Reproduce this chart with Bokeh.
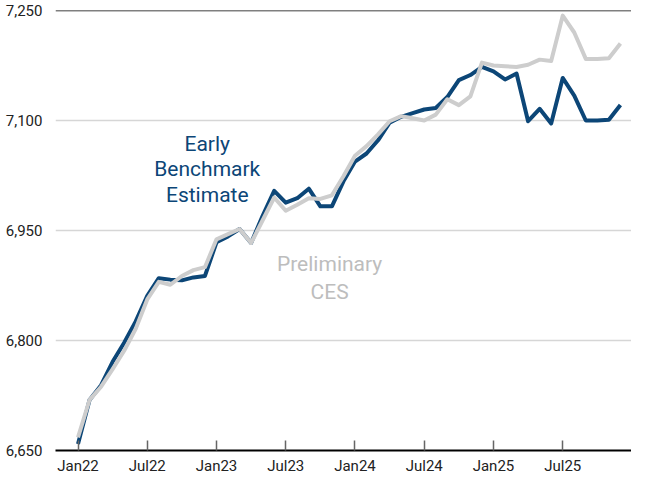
from bokeh.plotting import figure
from bokeh.models import FixedTicker, Span, Label, ColumnDataSource, Range1d
from bokeh.embed import file_html
from bokeh.resources import INLINE

# ---- data (thousands), monthly Jan22 .. Dec25 ----
early_benchmark = [6659, 6719, 6739, 6771, 6797, 6826, 6861, 6885, 6883, 6882, 6886, 6888,
                   6934, 6942, 6952, 6933, 6970, 7004, 6988, 6994, 7007, 6983, 6983, 7017,
                   7044, 7055, 7073, 7097, 7105, 7110, 7115, 7117, 7132, 7155, 7162, 7173,
                   7167, 7156, 7164, 7099, 7116, 7096, 7158, 7134, 7100, 7100, 7101, 7121]
preliminary_ces = [6668, 6719, 6737, 6761, 6786, 6816, 6856, 6880, 6876, 6888, 6896, 6900,
                   6938, 6945, 6952, 6933, 6964, 6995, 6977, 6985, 6994, 6993, 6998, 7024,
                   7052, 7065, 7081, 7099, 7106, 7103, 7100, 7108, 7129, 7121, 7133, 7179,
                   7175, 7174, 7173, 7176, 7183, 7181, 7243, 7220, 7184, 7184, 7185, 7205]
x_tick_positions = [0, 6, 12, 18, 24, 30, 36, 42]
x_tick_labels = ["Jan22", "Jul22", "Jan23", "Jul23", "Jan24", "Jul24", "Jan25", "Jul25"]
y_ticks = [6650, 6800, 6950, 7100, 7250]

month_index = list(range(len(early_benchmark)))
src = ColumnDataSource(dict(x=month_index, eb=early_benchmark, ces=preliminary_ces))

BLUE = "#0c4677"
GRAY_LINE = "#cdcdcd"
GRAY_TEXT = "#bdbdbd"
FONT = "Roboto"

p = figure(width=631, height=477, output_backend="svg", toolbar_location=None,
           x_range=Range1d(-1.95, 47.96), y_range=Range1d(6650, 7250),
           min_border_left=55, min_border_right=0, min_border_top=10, min_border_bottom=22)
p.outline_line_color = None
p.background_fill_color = "white"
p.border_fill_color = "white"

p.line("x", "eb", source=src, line_color=BLUE, line_width=4, line_join="round")
p.line("x", "ces", source=src, line_color=GRAY_LINE, line_width=4, line_join="round")

# axes
xa = p.xaxis[0]
xa.ticker = FixedTicker(ticks=x_tick_positions)
xa.major_label_overrides = {t: l for t, l in zip(x_tick_positions, x_tick_labels)}
xa.axis_line_color = "black"
xa.axis_line_width = 2
xa.major_tick_in = 10
xa.major_tick_out = 0
xa.major_tick_line_color = "#666666"
xa.major_tick_line_width = 1.5
xa.minor_tick_line_color = None
xa.major_label_standoff = 6
xa.major_label_text_font = FONT
xa.major_label_text_font_size = "15px"
xa.major_label_text_color = "#222222"

ya = p.yaxis[0]
ya.ticker = FixedTicker(ticks=y_ticks)
ya.major_label_overrides = {t: f"{t:,}" for t in y_ticks}
ya.axis_line_color = None
ya.major_tick_line_color = None
ya.minor_tick_line_color = None
ya.major_label_standoff = 7
ya.major_label_text_font = FONT
ya.major_label_text_font_size = "15px"
ya.major_label_text_color = "#222222"

p.xgrid.grid_line_color = None
p.ygrid.ticker = FixedTicker(ticks=y_ticks)
p.ygrid.grid_line_color = "#d6d6d6"
p.ygrid.grid_line_width = 1.5

p.add_layout(Span(location=7250, dimension="width", line_color="black", line_width=1.5))

# annotations
for txt, yv in zip(["Early", "Benchmark", "Estimate"], [7068, 7034, 6999]):
    p.add_layout(Label(x=11.2, y=yv, text=txt, text_align="center", text_baseline="middle",
                       text_font=FONT, text_font_size="21px", text_color=BLUE))
for txt, yv in zip(["Preliminary", "CES"], [6905, 6866]):
    p.add_layout(Label(x=21.8, y=yv, text=txt, text_align="center", text_baseline="middle",
                       text_font=FONT, text_font_size="21px", text_color=GRAY_TEXT))

open("out.html", "w").write(file_html(p, INLINE))
